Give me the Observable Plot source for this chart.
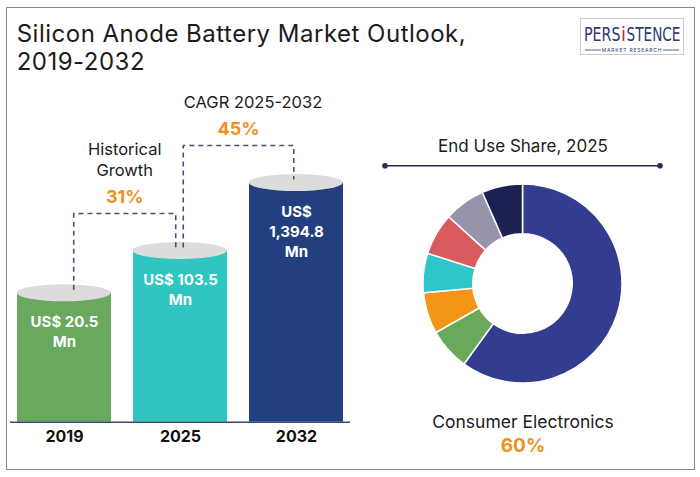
<!DOCTYPE html>
<html><head><meta charset="utf-8">
<script src="https://cdn.jsdelivr.net/npm/d3@7"></script>
<script src="https://cdn.jsdelivr.net/npm/@observablehq/plot@0.6"></script>
<style>
html,body{margin:0;padding:0;background:#fff;}
#wrap{position:relative;width:700px;height:477px;overflow:hidden;font-family:Inter,"Noto Sans",sans-serif;}
#frame{position:absolute;left:6px;top:6.5px;width:689px;height:463.5px;border:1.5px solid #8a8a8a;box-sizing:border-box;pointer-events:none;}
#title{position:absolute;left:16.7px;top:20px;font-size:24px;line-height:27.5px;letter-spacing:0.5px;color:#1b1b1b;font-weight:400;white-space:nowrap;}
#bars,#donut,#logo{position:absolute;top:0;}
#bars{left:0}
#donut{left:360px}
#logo{left:580px;top:18px}
</style></head><body>
<div id="wrap">
  <div id="title">Silicon Anode Battery Market Outlook,<br>2019-2032</div>
  <svg id="logo" width="104" height="38" viewBox="0 0 104 38">
    <rect x="0.5" y="0.5" width="103" height="36" fill="#fff" stroke="#c9c9c9"/>
    <g id="logoWord" font-family="'DejaVu Sans Condensed','Liberation Sans Narrow',sans-serif" font-size="20" font-weight="500"></g>
    <line x1="5" x2="21" y1="32" y2="32" stroke="#2b3b6d" stroke-width="0.8"/>
    <line x1="83" x2="99" y1="32" y2="32" stroke="#2b3b6d" stroke-width="0.8"/>
    <text x="52" y="34" text-anchor="middle" font-family="Inter,sans-serif" font-size="5" letter-spacing="0.8" fill="#2b3b6d">MARKET RESEARCH</text>
  </svg>
  <div id="bars"></div>
  <div id="donut"></div>
  <div id="frame"></div>
</div>
<script>
// ---------- data ----------
const years = ["2019", "2025", "2032"];
const values = [20.5, 103.5, 1394.8];
const valueLabels = ["US$ 20.5\nMn", "US$ 103.5\nMn", "US$\n1,394.8\nMn"];
const barColors = ["#69a95e", "#2fc6c1", "#22407f"];

const growthFrom = ["2019", "2025"];
const growthTo = ["2025", "2032"];
const growthTitles = ["Historical\nGrowth", "CAGR 2025-2032"];
const growthValues = ["31%", "45%"];

const shareTitle = "End Use Share, 2025";
const segments = ["Consumer Electronics", "Segment 2", "Segment 3", "Segment 4", "Segment 5", "Segment 6", "Segment 7"];
const shares = [60, 6.8, 6.7, 6.4, 6.8, 6.7, 6.6];
const segmentColors = ["#333c8e", "#6aa95c", "#f39617", "#2ec6c8", "#d95a5f", "#9694ab", "#1d2152"];

const logoParts = ["PERS", "i", "STENCE"];

// ---------- style ----------
const FONT = "Inter, 'Noto Sans', sans-serif";
const ORANGE = "#f0901c";
const TEXT = "#1b1b1b";

// ---------- logo (condensed word, each part fitted to its slot) ----------
{
  const slots = [[4, 36.5, "#2b3b6d"], [41, 5, "#d4242e"], [46.5, 54, "#2b3b6d"]];
  const g = d3.select("#logoWord");
  logoParts.forEach((p, i) => {
    const t = g.append("text").attr("fill", slots[i][2]).text(p);
    const len = t.node().getComputedTextLength() || 1;
    t.attr("transform", `translate(${slots[i][0]},22.5) scale(${slots[i][1] / len},1)`);
  });
}

// ---------- bar chart ----------
const LO = 0.1475, HI = 10000;
const xOpts = {type: "band", domain: years, range: [5.7, 353.8], paddingInner: 0.19, paddingOuter: 0.095};
const yOpts = {type: "log", domain: [LO, HI], range: [421.7, 131.1]};
const xs = Plot.scale({x: xOpts});
const ys = Plot.scale({y: yOpts});
const barData = years.map((year, i) => ({year, value: values[i], label: valueLabels[i]}));
const cx = yr => xs.apply(yr) + xs.bandwidth / 2;
const vy = yr => ys.apply(values[years.indexOf(yr)]);

function cylinderTops() {
  const g = d3.create("svg:g");
  years.forEach(yr => {
    g.append("ellipse").attr("cx", cx(yr)).attr("cy", vy(yr))
      .attr("rx", xs.bandwidth / 2).attr("ry", 8.5).attr("fill", "#dcdcdc");
  });
  return g.node();
}

const growthDx = [[10, -4], [3.5, -2]];
const titleDx = [0, 14.5];
function connectors() {
  const g = d3.create("svg:g");
  growthFrom.forEach((f, i) => {
    const t = growthTo[i];
    const x1 = cx(f) + growthDx[i][0], x2 = cx(t) + growthDx[i][1];
    const y1 = vy(f) - 3, y2 = vy(t) - 3;
    const level = Math.min(vy(f), vy(t)) - 37;
    g.append("path").attr("d", `M${x1},${y1}V${level}H${x2}V${y2}`)
      .attr("fill", "none").attr("stroke", "#4b4d7d").attr("stroke-width", 1.6).attr("stroke-dasharray", "5,4");
    const mx = (x1 + x2) / 2;
    const pctBase = level - 11;
    g.append("text").attr("x", mx).attr("y", pctBase).attr("text-anchor", "middle")
      .attr("font-size", 18).attr("font-weight", 700).attr("fill", ORANGE).text(growthValues[i]);
    const lines = growthTitles[i].split("\n");
    const last = pctBase - 26.5;
    lines.forEach((ln, j) => g.append("text").attr("x", mx + titleDx[i])
      .attr("y", last - (lines.length - 1 - j) * 21.3).attr("text-anchor", "middle")
      .attr("font-size", 16.5).attr("font-weight", 400).attr("fill", TEXT).text(ln));
  });
  return g.node();
}

const barPlot = Plot.plot({
  width: 360, height: 477,
  marginLeft: 10, marginRight: 10, marginTop: 0, marginBottom: 477 - 421.7,
  style: {background: "none", fontFamily: FONT, fontSize: "16px", fontWeight: 700, color: "#111", overflow: "visible"},
  x: {...xOpts, axis: "bottom", tickSize: 0, tickPadding: 8.6, label: null},
  y: {...yOpts, axis: null},
  color: {domain: years, range: barColors},
  marks: [
    Plot.barY(barData, {x: "year", y1: LO, y2: "value", fill: "year"}),
    Plot.ruleY([LO], {stroke: "#3b4775", strokeWidth: 1.5}),
    cylinderTops,
    connectors,
    Plot.text(barData, {x: "year", y: "value", text: "label", fill: "white", fontSize: 15, fontWeight: 700,
      lineAnchor: "top", lineHeight: 1.32, dy: 19.9})
  ]
});
document.getElementById("bars").appendChild(barPlot);

// ---------- donut ----------
const cxD = 162.5, cyD = 283.5, R = 99.5;
const dxs = Plot.scale({x: {domain: [-1, 1], range: [cxD - R, cxD + R]}});
const dys = Plot.scale({y: {domain: [-1, 1], range: [cyD + R, cyD - R]}});
const col = Plot.scale({color: {domain: segments, range: segmentColors}});

function ring() {
  const g = d3.create("svg:g")
    .attr("transform", `translate(${dxs.apply(0)},${dys.apply(0)})`);
  const outer = dxs.apply(1) - dxs.apply(0);
  const arcs = d3.pie().sort(null).value(d => d)(shares);
  const arc = d3.arc().innerRadius(outer * 0.5).outerRadius(outer);
  g.selectAll("path").data(arcs).join("path")
    .attr("d", arc)
    .attr("fill", (d, i) => col.apply(segments[i]))
    .attr("stroke", "#fff").attr("stroke-width", 1.5);
  return g.node();
}
function separator() {
  const g = d3.create("svg:g").attr("fill", "#25285a");
  g.append("line").attr("x1", 25).attr("x2", 300).attr("y1", 165.7).attr("y2", 165.7)
    .attr("stroke", "#25285a").attr("stroke-width", 1.5);
  g.append("circle").attr("cx", 25).attr("cy", 165.7).attr("r", 2.8);
  g.append("circle").attr("cx", 300).attr("cy", 165.7).attr("r", 2.8);
  return g.node();
}

const donutPlot = Plot.plot({
  width: 340, height: 477,
  marginLeft: 0, marginRight: 15, marginTop: 0, marginBottom: 0,
  style: {background: "none", fontFamily: FONT, overflow: "visible"},
  marks: [
    ring,
    separator,
    Plot.text([shareTitle], {text: d => d, frameAnchor: "top", lineAnchor: "top", dy: 151.7 - 0.71 * 17,
      fontSize: 17, fontWeight: 400, fill: TEXT}),
    Plot.text([segments[0]], {text: d => d, frameAnchor: "top", lineAnchor: "top", dy: 427.7 - 0.71 * 17.5,
      fontSize: 17.5, fontWeight: 400, fill: TEXT}),
    Plot.text([shares[0]], {text: d => d + "%", frameAnchor: "top", lineAnchor: "top", dy: 451 - 0.71 * 19,
      fontSize: 19, fontWeight: 700, fill: ORANGE})
  ]
});
document.getElementById("donut").appendChild(donutPlot);
</script>
</body></html>
